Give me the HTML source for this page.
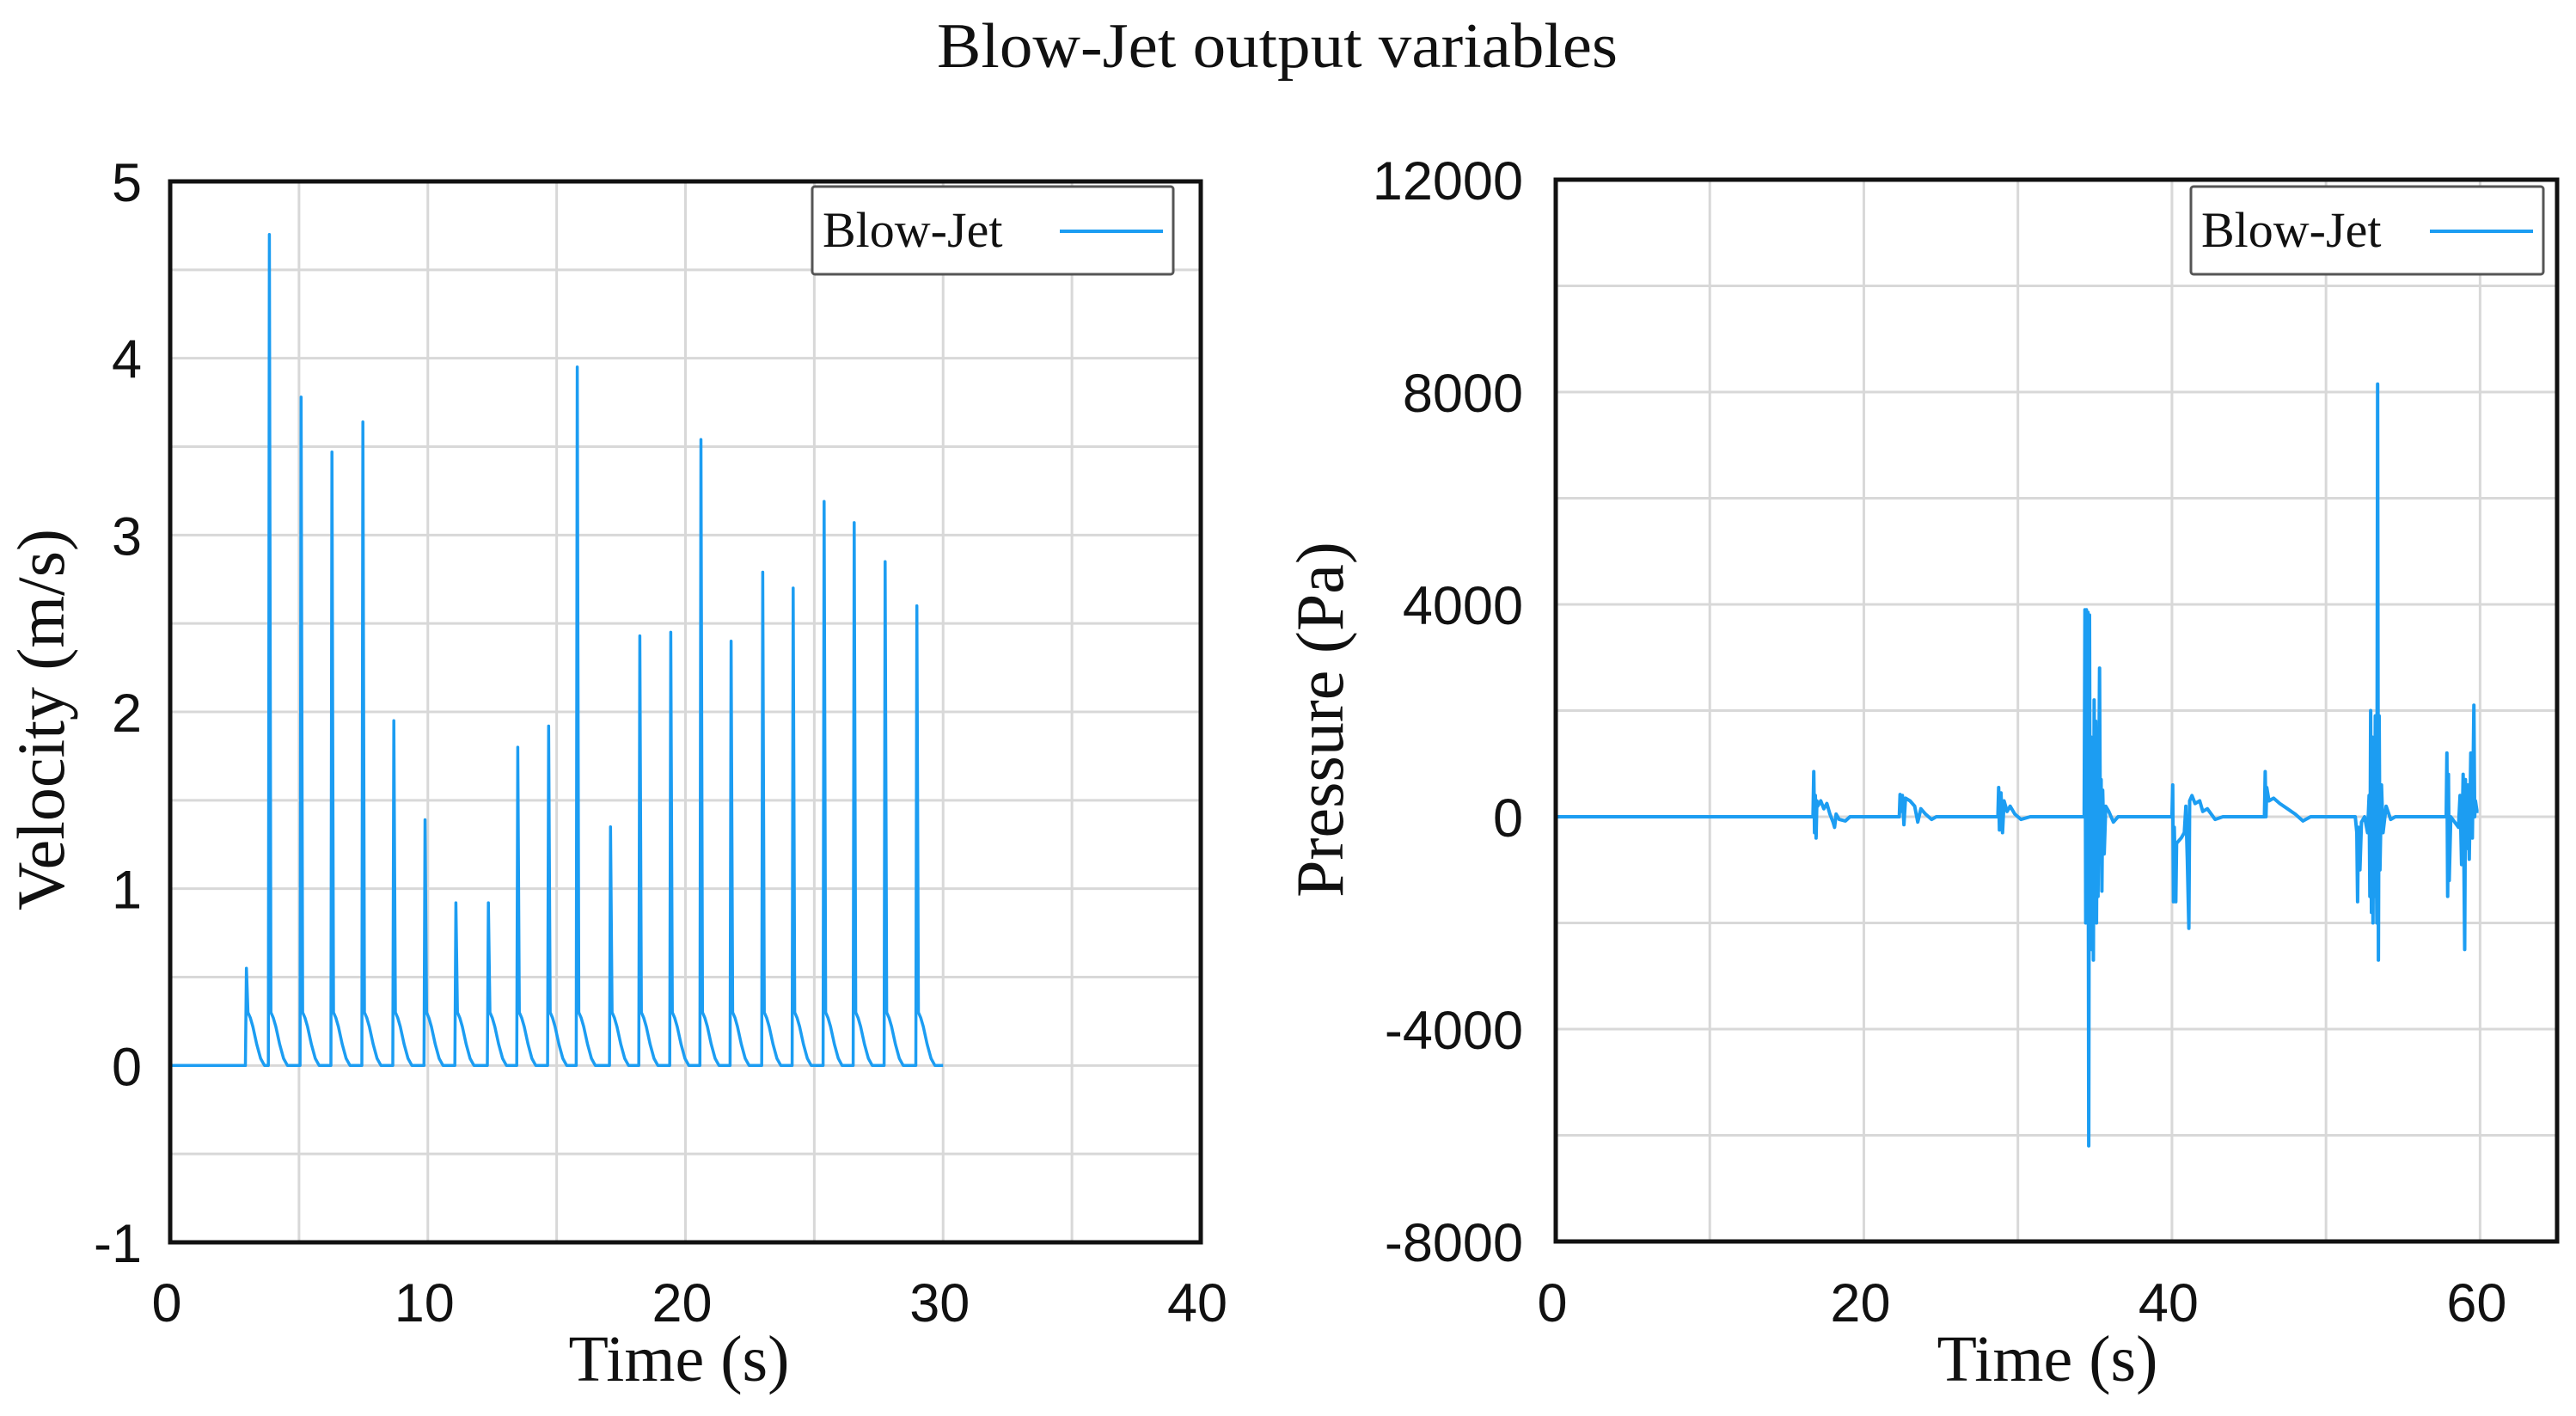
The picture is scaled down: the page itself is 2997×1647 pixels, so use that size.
<!DOCTYPE html>
<html><head><meta charset="utf-8"><style>
html,body{margin:0;padding:0;background:#fff}
svg{display:block}
.tick{font-family:"Liberation Sans",sans-serif;font-size:63px;fill:#111}
.ser{font-family:"Liberation Serif",serif;fill:#111}
</style></head><body>
<svg id="chart" width="2997" height="1647" viewBox="0 0 2997 1647" xmlns="http://www.w3.org/2000/svg">
<text class="ser" x="1486" y="78" font-size="74" text-anchor="middle" textLength="792" lengthAdjust="spacingAndGlyphs">Blow-Jet output variables</text>
<g id="left"></g>
<g id="right"></g>
</svg>
<script>
// Velocity chart data
const velPeakTimes = [2.96,3.85,5.08,6.28,7.48,8.68,9.89,11.09,12.35,13.49,14.69,15.8,17.09,18.23,19.43,20.6,21.77,23.0,24.18,25.38,26.55,27.75,28.98];
const velPeakValues = [0.55,4.7,3.78,3.47,3.64,1.95,1.39,0.92,0.92,1.8,1.92,3.95,1.35,2.43,2.45,3.54,2.4,2.79,2.7,3.19,3.07,2.85,2.6];
const velTailOffsets = [0.06,0.15,0.25,0.4,0.55,0.7];
const velTailValues = [0.3,0.27,0.22,0.12,0.04,0];
const velXTicks = [0,10,20,30,40];
const velYTicks = [-1,0,1,2,3,4,5];
// Pressure chart data
const presTimes = [0,16.7,16.75,16.8,16.85,16.9,16.95,17.0,17.2,17.4,17.6,17.8,18.0,18.1,18.2,18.4,18.8,19.1,
22.3,22.35,22.4,22.5,22.6,22.7,23.0,23.3,23.5,23.7,24.0,24.4,24.7,
28.7,28.75,28.8,28.9,29.0,29.1,29.3,29.5,29.8,30.2,30.8,
34.3,34.35,34.4,34.45,34.5,34.55,34.6,34.65,34.7,34.75,34.8,34.85,34.9,34.95,35.0,35.05,35.1,35.15,35.2,35.3,35.35,35.4,35.45,35.5,35.6,35.7,35.9,36.2,36.5,
40.0,40.05,40.1,40.15,40.25,40.3,40.6,40.8,40.9,41.0,41.1,41.15,41.3,41.5,41.8,42.0,42.3,42.8,43.3,
46.0,46.05,46.1,46.15,46.3,46.6,47.0,47.5,48.0,48.5,49.0,
51.9,52.0,52.05,52.1,52.2,52.3,52.5,52.7,52.8,52.85,52.9,52.95,53.0,53.05,53.1,53.15,53.2,53.3,53.35,53.4,53.45,53.5,53.6,53.7,53.9,54.2,54.5,
57.8,57.85,57.9,57.95,58.0,58.1,58.6,58.7,58.8,58.9,59.0,59.05,59.1,59.2,59.3,59.4,59.5,59.6,59.65,59.7,59.8,59.9];
const presValues = [0,0,850,-300,400,-400,300,200,300,150,250,50,-100,-200,50,-50,-80,0,
0,420,100,400,-150,350,300,200,-100,150,50,-50,0,
0,550,-250,450,-300,300,100,200,50,-50,0,
0,3900,-2000,3900,-1800,3850,-6200,3800,-2500,1500,-2500,1000,-2700,2200,-1500,1800,-2000,800,-1500,2800,-500,700,-1400,500,-700,200,100,-100,0,
0,600,-1600,-200,-1600,-500,-400,-300,200,-800,-2100,300,400,250,300,100,150,-50,0,
0,850,0,550,300,350,250,150,50,-80,0,
0,-300,-1600,-200,-1000,-100,0,-300,400,-1500,2000,-1800,1500,-2000,1200,-1500,1900,-2000,8150,-2700,1900,-1000,600,-300,200,-50,0,
0,1200,-1500,800,-1200,0,-200,400,-900,800,-2500,700,-600,600,-800,1200,-400,2100,0,300,100,100];
const presXTicks = [0,20,40,60];
const presYTicks = [-8000,-4000,0,4000,8000,12000];

const NS = "http://www.w3.org/2000/svg";
const LINE = "#1c9df2";
function mk(parent, tag, attrs, text){
  const e = document.createElementNS(NS, tag);
  for (const k in attrs) e.setAttribute(k, attrs[k]);
  if (text !== undefined) e.textContent = text;
  parent.appendChild(e);
  return e;
}

function drawChart(g, cfg){
  const sx = v => cfg.x0 + (v - cfg.xmin) / (cfg.xmax - cfg.xmin) * (cfg.x1 - cfg.x0);
  const sy = v => cfg.y1 - (v - cfg.ymin) / (cfg.ymax - cfg.ymin) * (cfg.y1 - cfg.y0);
  for (let v = cfg.xmin + cfg.gx; v < cfg.xmax - 1e-9; v += cfg.gx) {
    const l = mk(g, "line", {x1:sx(v), x2:sx(v), y1:cfg.y0, y2:cfg.y1, stroke:"#d8d8d8", "stroke-width":3});
    
    
  }
  for (let v = cfg.ymin + cfg.gy; v < cfg.ymax - 1e-9; v += cfg.gy) {
    const l = mk(g, "line", {x1:cfg.x0, x2:cfg.x1, y1:sy(v), y2:sy(v), stroke:"#d8d8d8", "stroke-width":3});
    
    
  }
  const d = cfg.pts.map((p,i)=>(i?"L":"M")+sx(p[0]).toFixed(1)+" "+sy(p[1]).toFixed(1)).join(" ");
  const path = mk(g, "path", {d:d, fill:"none", stroke:LINE, "stroke-width":cfg.lw2, "stroke-linejoin":"round"});
  
  
  const fr = mk(g, "rect", {x:cfg.x0, y:cfg.y0, width:cfg.x1-cfg.x0, height:cfg.y1-cfg.y0, fill:"none", stroke:"#111", "stroke-width":5});
  
  
  cfg.xt.forEach(v=>{
    const t = mk(g, "text", {class:"tick", x:sx(v)-4, y:1537, "text-anchor":"middle"}, String(v));
    
    
  });
  cfg.yt.forEach(v=>{
    const t = mk(g, "text", {class:"tick", x:cfg.ylabX, y:sy(v)+23, "text-anchor":"end"}, String(v));
    
    
  });
  const xt = mk(g, "text", {class:"ser", x:cfg.xTitleX, y:1606, "font-size":76, "text-anchor":"middle"}, "Time (s)");
  
  
  const yt = mk(g, "text", {class:"ser", x:0, y:0, "font-size":78, "text-anchor":"middle", transform:`translate(${cfg.yTitleX},837) rotate(-90)`}, cfg.yTitle);
  
  
  const lg = mk(g, "g", {});
  
  
  mk(lg, "rect", {x:cfg.lx, y:217, width:cfg.lw, height:102, fill:"#fff", stroke:"#555", "stroke-width":3, rx:3});
  const lt = mk(lg, "text", {class:"ser", x:cfg.lx+12, y:287, "font-size":58}, "Blow-Jet");
  
  
  const ll = mk(lg, "line", {x1:cfg.lx+cfg.lw-132, x2:cfg.lx+cfg.lw-12, y1:269, y2:269, stroke:LINE, "stroke-width":4});
  
  
}

// Build velocity points
const velPts = [[0,0]];
velPeakTimes.forEach((t,i)=>{
  const pk = velPeakValues[i];
  velPts.push([t-0.04,0]);
  velPts.push([t,pk]);
  velTailOffsets.forEach((o,j)=>velPts.push([t+o, Math.min(velTailValues[j], pk*0.6)]));
});
velPts.push([30,0]);

drawChart(document.getElementById("left"), {
  x0:198, x1:1397, y0:211, y1:1445, xmin:0, xmax:40, ymin:-1, ymax:5, gx:5, gy:0.5,
  pts: velPts, xt: velXTicks, yt: velYTicks, ylabX:165, xTitleX:790, yTitleX:74,
  yTitle:"Velocity (m/s)", lx:945, lw:420, lw2:3.5
});

const presPts = presTimes.map((t,i)=>[t, presValues[i]]);
drawChart(document.getElementById("right"), {
  x0:1810, x1:2975, y0:209, y1:1444, xmin:0, xmax:65, ymin:-8000, ymax:12000, gx:10, gy:2000,
  pts: presPts, xt: presXTicks, yt: presYTicks, ylabX:1772, xTitleX:2382, yTitleX:1562,
  yTitle:"Pressure (Pa)", lx:2549, lw:410, lw2:4
});
</script>
</body></html>
